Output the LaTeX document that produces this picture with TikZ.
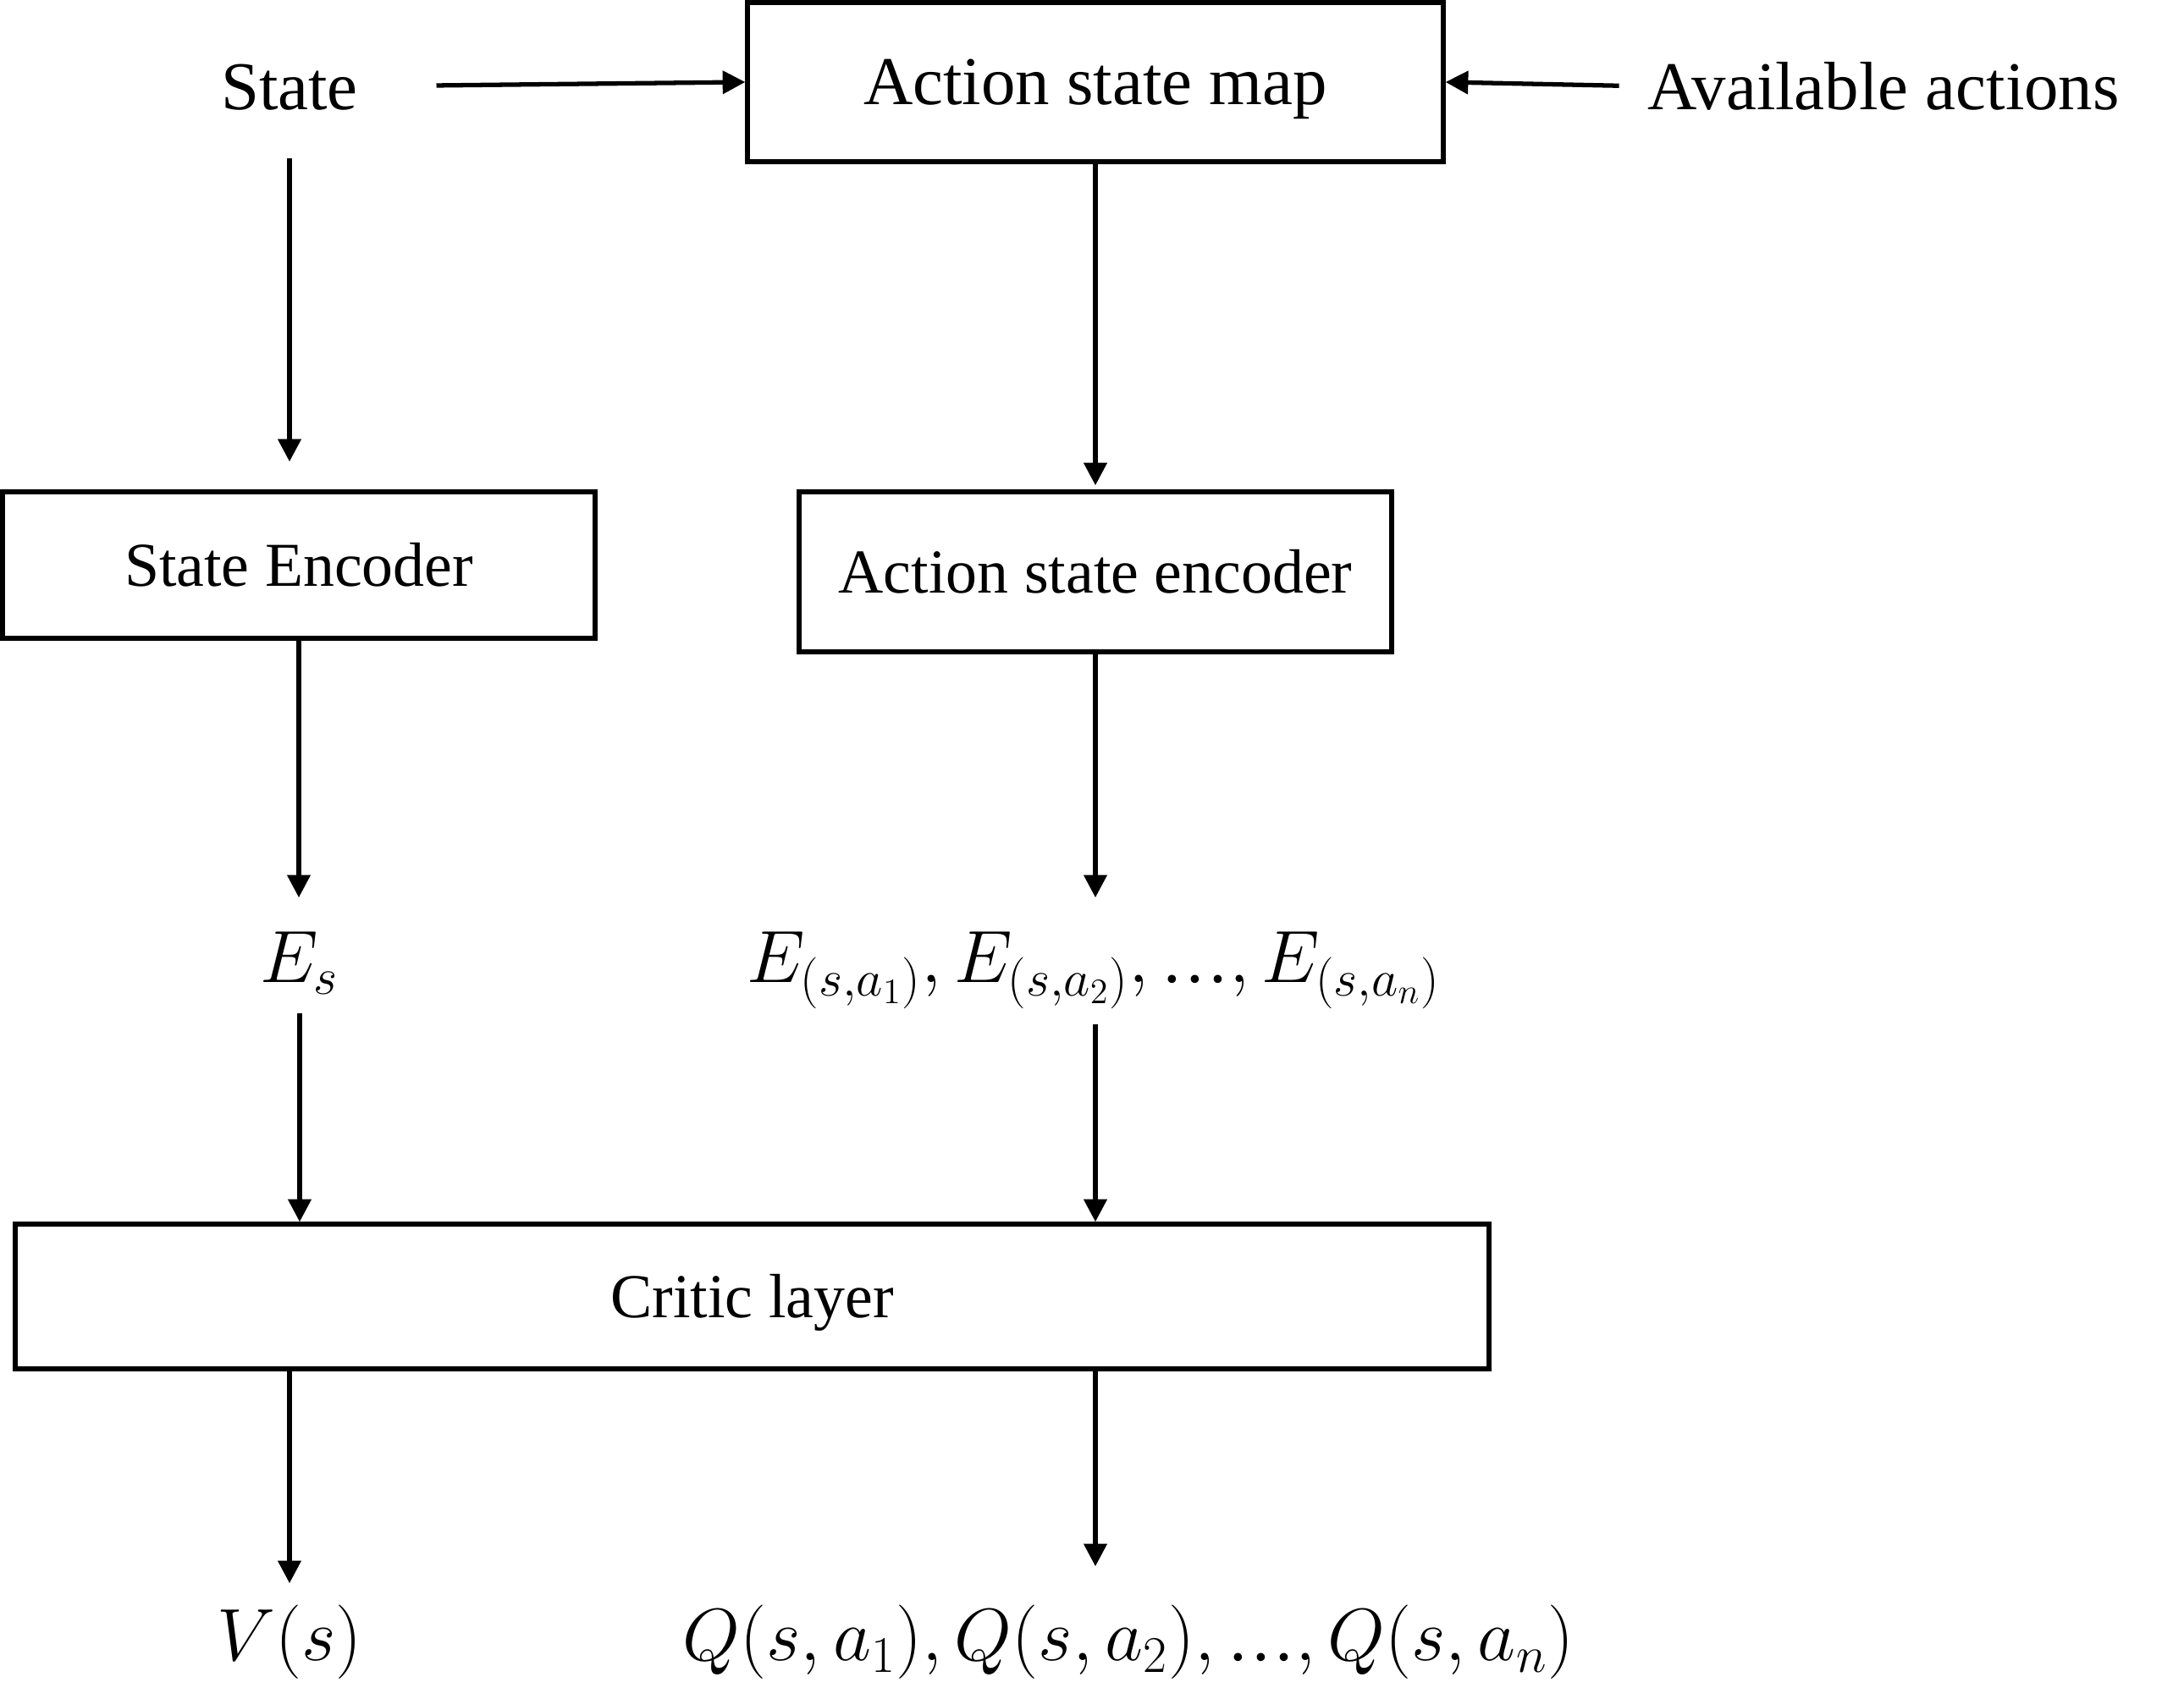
\documentclass[tikz,border=0pt]{standalone}
\usepackage{fontspec}
\setmainfont{Liberation Serif}
\usetikzlibrary{arrows.meta}

\tikzset{
    box/.style={draw, line width=1.5pt, inner sep=0pt, text height=0.5cm, text depth=0cm, font=\fontsize{21}{25}\selectfont},
    lbl/.style={inner sep=0pt, anchor=base, text height=0.68cm, text depth=0.12cm, font=\fontsize{23}{28}\selectfont},
    arr/.style={line width=1.5pt, -{Triangle[length=7.6pt,width=7.6pt]}}
}
\newcommand{\eldots}{\mbox{…}}

\begin{document}
\begin{tikzpicture}
    \useasboundingbox (0,0) rectangle (25.8,20.07);

    % Inputs
    \node[lbl] (state) at (3.42,18.77) {State};
    \node[box, minimum width=8.22cm, minimum height=1.88cm, text height=0.54cm, font=\fontsize{23}{28}\selectfont] (asm) at (12.94,19.10) {Action state map};
    \node[lbl] (avail) at (22.25,18.77) {Available actions};

    % Encoders
    \node[box, minimum width=7cm, minimum height=1.73cm] (se) at (3.53,13.395) {State Encoder};
    \node[box, minimum width=7cm, minimum height=1.89cm] (ase) at (12.94,13.315) {Action state encoder};

    % Embeddings
    \node[lbl] (es) at (3.54,8.46) {$E_s$};
    \node[lbl] (elist) at (12.92,8.46) {$E_{(s,a_1)}, E_{(s,a_2)}, \eldots, E_{(s,a_n)}$};

    % Critic
    \node[box, minimum width=17.41cm, minimum height=1.71cm] (critic) at (8.885,4.755) {Critic layer};

    % Outputs
    \node[lbl] (v) at (3.42,0.45) {$V(s)$};
    \node[lbl] (q) at (13.33,0.45) {$Q(s,a_1), Q(s,a_2), \eldots, Q(s,a_n)$};

    % Arrows
    \draw[arr, shorten <=0.92cm] (state.east) -- (asm.west);
    \draw[arr, shorten <=0.33cm] (avail.west) -- (asm.east);
    \draw[arr, shorten <=0.44cm, shorten >=0.33cm] (state.south) -- (state.south |- se.north);
    \draw[arr, shorten >=0.05cm] (asm.south) -- (ase.north);
    \draw[arr, shorten >=0.32cm] (se.south) -- (se.south |- es.north);
    \draw[arr, shorten >=0.32cm] (ase.south) -- (ase.south |- elist.north);
    \draw[arr, shorten <=0.23cm] (es.south) -- (es.south |- critic.north);
    \draw[arr, shorten <=0.36cm] (ase.south |- elist.south) -- (ase.south |- critic.north);
    \draw[arr, shorten >=0.23cm] (v.north |- critic.south) -- (v.north);
    \draw[arr, shorten >=0.43cm] (ase.south |- critic.south) -- (ase.south |- q.north);
\end{tikzpicture}
\end{document}
